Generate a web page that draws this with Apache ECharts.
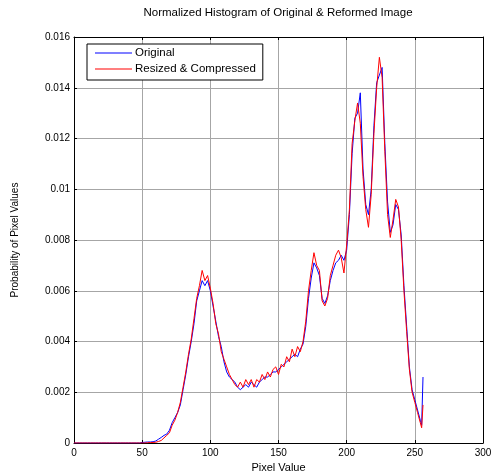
<!DOCTYPE html>
<html><head><meta charset="utf-8">
<script src="https://cdn.jsdelivr.net/npm/echarts@6/dist/echarts.min.js"></script>
<style>html,body{margin:0;padding:0;background:#fff;overflow:hidden}#c{width:494px;height:472px}</style>
</head><body><div id="c"></div>
<script>
const titleText = 'Normalized Histogram of Original & Reformed Image';
const xName = 'Pixel Value';
const yName = 'Probability of Pixel Values';
const seriesNames = ['Original', 'Resized & Compressed'];
const pixelValues = [0,2,4,6,8,10,12,14,16,18,20,22,24,26,28,30,32,34,36,38,40,42,44,46,48,
 50,52,54,56,58,60,62,64,66,68,70,72,74,76,78,80,82,84,86,88,90,92,94,96,98,
 100,102,104,106,108,110,112,114,116,118,120,122,124,126,128,130,132,134,136,138,
 140,142,144,146,148,150,152,154,156,158,160,162,164,166,168,170,172,174,176,178,
 180,182,184,186,188,190,192,194,196,198,200,202,204,206,208,210,212,214,216,218,
 220,222,224,226,228,230,232,234,236,238,240,242,244,246,248,250,252,254,255,256];
const original = [0,0,0,0,0,0,0,0,0,0,0,0,0,0,0,0,0,0,0,0,0,0,0,0,0,
 0.00002,0.00003,0.00004,0.00004,0.00005,0.00008,0.00015,0.00022,0.0003,0.00035,0.0005,0.0008,0.0010,0.0012,0.0015,0.0021,0.0027,0.0034,0.0040,0.0047,0.0056,0.0060,0.0064,0.0062,0.0064,
 0.0060,0.0054,0.0048,0.0042,0.0038,0.0032,0.0028,0.0026,0.0025,0.0024,0.0022,0.0021,0.0022,0.0023,0.0022,0.0024,0.0023,0.0022,0.0024,0.0025,
 0.0026,0.0026,0.0027,0.0028,0.0028,0.0029,0.0030,0.0031,0.0032,0.0033,0.0034,0.0035,0.0034,0.0037,0.0039,0.0046,0.0057,0.0065,0.0071,0.0069,
 0.0066,0.0057,0.0055,0.0058,0.0064,0.0068,0.0071,0.0072,0.0074,0.0072,0.0076,0.0090,0.0114,0.0128,0.0130,0.0138,0.0108,0.0094,0.0090,0.0100,
 0.0125,0.0142,0.0145,0.0148,0.0118,0.0095,0.0083,0.0086,0.0094,0.0092,0.0082,0.0062,0.0046,0.0030,0.0021,0.0017,0.0013,0.0009,0.0007,0.0026];
const resized = [0,0,0,0,0,0,0,0,0,0,0,0,0,0,0,0,0,0,0,0,0,0,0,0,0,
 0,0,0.00001,0.00002,0.00002,0.00003,0.00006,0.0001,0.0002,0.0003,0.0004,0.0007,0.0009,0.0012,0.0016,0.0022,0.0028,0.0035,0.0041,0.0049,0.0057,0.0062,0.0068,0.0064,0.0066,
 0.0061,0.0055,0.0047,0.0043,0.0036,0.0033,0.0030,0.0027,0.0025,0.0023,0.0022,0.0024,0.0022,0.0025,0.0023,0.0025,0.0022,0.0025,0.0024,0.0027,
 0.0025,0.0028,0.0026,0.0029,0.0030,0.0027,0.0031,0.0030,0.0034,0.0032,0.0037,0.0034,0.0038,0.0036,0.0040,0.0048,0.0060,0.0068,0.0075,0.0070,
 0.0068,0.0056,0.0054,0.0057,0.0066,0.0070,0.0074,0.0076,0.0073,0.0067,0.0078,0.0092,0.0118,0.0127,0.0134,0.0126,0.0105,0.0092,0.0085,0.0098,
 0.0122,0.0140,0.0152,0.0144,0.0115,0.0090,0.0081,0.0088,0.0096,0.0093,0.0080,0.0060,0.0044,0.0029,0.0020,0.0016,0.0012,0.0008,0.0006,0.0015];
const xTicks = [0,50,100,150,200,250,300];
const yTicks = [0,0.002,0.004,0.006,0.008,0.01,0.012,0.014,0.016];

const font = 'Liberation Sans, Arial, sans-serif';
const colors = ['#0000ff', '#ff0000'];
const pairs = arr => pixelValues.map((x, i) => [x, arr[i]]);
const chart = echarts.init(document.getElementById('c'), null, {renderer: 'canvas'});
const gridLine = {show: true, lineStyle: {color: '#a6a6a6', width: 1}};
const tick = {show: true, inside: true, length: 3, lineStyle: {color: '#000'}};
const axLine = {show: true, onZero: false, lineStyle: {color: '#000', width: 1}};
chart.setOption({
  animation: false,
  backgroundColor: '#fff',
  title: {text: titleText, left: 273, textAlign: 'center', top: 2,
    textStyle: {fontFamily: font, fontSize: 11.5, fontWeight: 'normal', color: '#000'}},
  legend: {left: 87, top: 44, orient: 'vertical', icon: 'rect', itemWidth: 37, itemHeight: 1,
    itemGap: 4, padding: [3, 7, 5, 8], borderColor: '#000', borderWidth: 1, backgroundColor: '#fff',
    textStyle: {fontFamily: font, fontSize: 11.5, lineHeight: 12, color: '#000', padding: [0,0,0,-2]},
    data: seriesNames.map((n, i) => ({name: n, icon: 'rect', itemStyle: {color: colors[i], borderWidth: 0}}))},
  grid: {left: 74, right: 11, top: 37, bottom: 29, containLabel: false, outerBoundsMode: 'none'},
  xAxis: [{type: 'value', min: xTicks[0], max: xTicks[xTicks.length-1], interval: 50,
    name: xName, nameLocation: 'middle', nameGap: 17,
    nameTextStyle: {fontFamily: font, fontSize: 11, color: '#000'},
    axisLine: axLine, axisTick: tick,
    axisLabel: {fontFamily: font, fontSize: 10, color: '#000', margin: 5},
    splitLine: gridLine},
   {type: 'value', position: 'top', min: 0, max: 300, interval: 50,
    axisLine: axLine, axisTick: tick,
    axisLabel: {show: false}, splitLine: {show: false}}],
  yAxis: [{type: 'value', min: 0, max: 0.016, interval: 0.002,
    name: yName, nameLocation: 'middle', nameGap: 54, nameRotate: 90,
    nameTextStyle: {fontFamily: font, fontSize: 10, color: '#000'},
    axisLine: axLine, axisTick: tick,
    axisLabel: {fontFamily: font, fontSize: 10, color: '#000', margin: 4,
      formatter: v => String(+v.toFixed(3))},
    splitLine: gridLine},
   {type: 'value', position: 'right', min: 0, max: 0.016, interval: 0.002,
    axisLine: axLine, axisTick: tick,
    axisLabel: {show: false}, splitLine: {show: false}}],
  series: [
    {name: seriesNames[0], type: 'line', data: pairs(original), showSymbol: false, symbol: 'none',
     lineStyle: {color: colors[0], width: 1}, itemStyle: {color: colors[0]}, z: 2},
    {name: seriesNames[1], type: 'line', data: pairs(resized), showSymbol: false, symbol: 'none',
     lineStyle: {color: colors[1], width: 1}, itemStyle: {color: colors[1]}, z: 3}
  ]
});
</script></body></html>
